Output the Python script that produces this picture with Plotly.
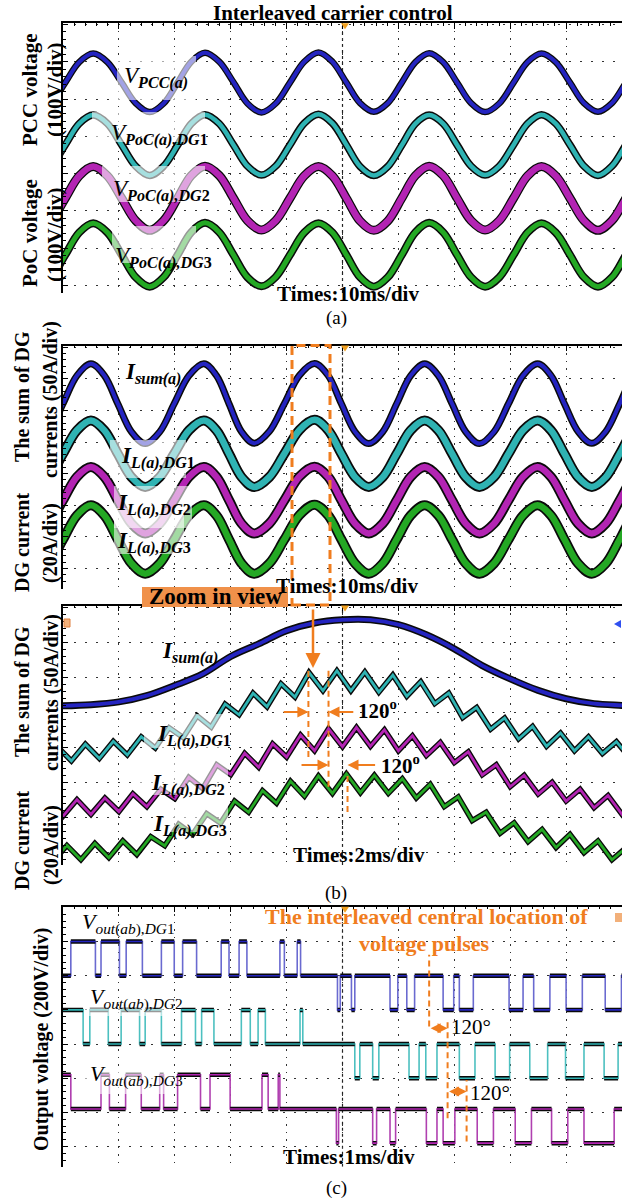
import plotly.graph_objects as go

# ================= DATA (x in scope divisions, y in scope divisions) =================
# (a) PCC / PoC voltages, 10 ms/div
a_t = [-0.46, -0.21, 0.04, 0.29, 0.54, 0.795, 1.05, 1.30,
       1.55, 1.80, 2.05, 2.295, 2.54, 2.795, 3.05, 3.30,
       3.55, 3.805, 4.06, 4.315, 4.57, 4.82, 5.07, 5.315,
       5.56, 5.81, 6.06, 6.305, 6.55, 6.80, 7.05, 7.30,
       7.55, 7.805, 8.06, 8.31, 8.56, 8.815, 9.07, 9.32,
       9.57, 9.82, 10.07, 10.32, 10.57]
a_vpcc = [4.66, 4.89, 5.44, 5.99, 6.22, 5.99, 5.44, 4.89,
          4.65, 4.88, 5.44, 6.0, 6.24, 6.0, 5.45, 4.88,
          4.64, 4.88, 5.44, 6.0, 6.25, 6.0, 5.44, 4.89,
          4.66, 4.89, 5.44, 5.99, 6.23, 5.99, 5.44, 4.89,
          4.65, 4.88, 5.44, 5.99, 6.22, 5.99, 5.44, 4.89,
          4.66, 4.89, 5.44, 5.99, 6.22]
a_dg1 = [2.96, 3.2, 3.77, 4.34, 4.57, 4.34, 3.77, 3.2,
         2.95, 3.2, 3.76, 4.34, 4.58, 4.34, 3.77, 3.2,
         2.96, 3.2, 3.77, 4.35, 4.59, 4.35, 3.77, 3.19,
         2.95, 3.19, 3.76, 4.34, 4.57, 4.34, 3.77, 3.2,
         2.96, 3.2, 3.77, 4.34, 4.58, 4.34, 3.77, 3.2,
         2.95, 3.2, 3.77, 4.34, 4.57]
a_dg2 = [1.49, 1.74, 2.34, 2.94, 3.19, 2.94, 2.34, 1.74,
         1.48, 1.74, 2.34, 2.95, 3.2, 2.95, 2.34, 1.74,
         1.49, 1.74, 2.34, 2.94, 3.19, 2.94, 2.34, 1.73,
         1.48, 1.73, 2.34, 2.95, 3.2, 2.95, 2.34, 1.74,
         1.49, 1.74, 2.34, 2.94, 3.19, 2.94, 2.34, 1.74,
         1.48, 1.74, 2.34, 2.94, 3.19]
a_dg3 = [-0.03, 0.22, 0.82, 1.42, 1.67, 1.42, 0.82, 0.22,
         -0.03, 0.22, 0.82, 1.43, 1.68, 1.43, 0.82, 0.22,
         -0.02, 0.23, 0.82, 1.42, 1.67, 1.42, 0.82, 0.22,
         -0.03, 0.22, 0.82, 1.43, 1.68, 1.43, 0.82, 0.22,
         -0.03, 0.22, 0.82, 1.42, 1.67, 1.42, 0.82, 0.22,
         -0.03, 0.22, 0.82, 1.42, 1.67]

# (b) upper: DG currents, 10 ms/div
b_t = [-0.5, -0.25, 0.0, 0.25, 0.5, 0.74, 0.98, 1.225,
       1.47, 1.73, 1.99, 2.255, 2.52, 2.745, 2.97, 3.195,
       3.42, 3.69, 3.96, 4.23, 4.5, 4.74, 4.98, 5.225,
       5.47, 5.72, 5.97, 6.22, 6.47, 6.715, 6.96, 7.205,
       7.45, 7.71, 7.97, 8.23, 8.49, 8.73, 8.97, 9.215,
       9.46, 9.71, 9.96, 10.205, 10.45]
b_isum = [3.95, 4.32, 5.21, 6.1, 6.47, 6.1, 5.21, 4.32,
          3.95, 4.32, 5.21, 6.1, 6.47, 6.1, 5.21, 4.32,
          3.96, 4.33, 5.21, 6.11, 6.48, 6.11, 5.21, 4.32,
          3.95, 4.32, 5.21, 6.1, 6.47, 6.1, 5.21, 4.32,
          3.95, 4.32, 5.21, 6.1, 6.47, 6.1, 5.21, 4.33,
          3.96, 4.33, 5.21, 6.1, 6.47]
b_dg1 = [2.58, 2.89, 3.63, 4.37, 4.68, 4.37, 3.63, 2.89,
         2.58, 2.89, 3.63, 4.37, 4.68, 4.37, 3.63, 2.89,
         2.58, 2.89, 3.63, 4.38, 4.7, 4.38, 3.63, 2.89,
         2.58, 2.89, 3.63, 4.37, 4.68, 4.37, 3.63, 2.89,
         2.58, 2.89, 3.63, 4.37, 4.68, 4.37, 3.63, 2.89,
         2.58, 2.89, 3.63, 4.37, 4.68]
b_dg2 = [1.11, 1.42, 2.16, 2.9, 3.21, 2.9, 2.16, 1.42,
         1.11, 1.42, 2.16, 2.9, 3.21, 2.9, 2.16, 1.42,
         1.11, 1.42, 2.16, 2.91, 3.22, 2.91, 2.16, 1.42,
         1.11, 1.42, 2.16, 2.9, 3.21, 2.9, 2.16, 1.42,
         1.11, 1.42, 2.16, 2.9, 3.21, 2.9, 2.16, 1.42,
         1.11, 1.42, 2.16, 2.9, 3.21]
b_dg3 = [-0.16, 0.16, 0.92, 1.68, 2.0, 1.68, 0.92, 0.16,
         -0.16, 0.16, 0.92, 1.68, 2.0, 1.68, 0.92, 0.16,
         -0.16, 0.16, 0.92, 1.69, 2.02, 1.69, 0.92, 0.16,
         -0.16, 0.16, 0.92, 1.68, 2.0, 1.68, 0.92, 0.16,
         -0.16, 0.16, 0.92, 1.68, 2.0, 1.68, 0.92, 0.16,
         -0.16, 0.16, 0.92, 1.68, 2.0]

# (b) lower: zoom in view, 2 ms/div
z_t_sum = [-0.2, 0.5, 1.0, 1.5, 2.0, 2.5, 3.0, 3.5, 4.0, 4.5, 5.0, 5.5, 6.0, 6.5,
           7.0, 7.5, 8.0, 8.5, 9.0, 9.5, 10.0, 10.2]
z_isum = [4.18, 4.22, 4.3, 4.48, 4.77, 5.1, 5.6, 5.96, 6.34, 6.56, 6.65, 6.65, 6.51,
          6.22, 5.82, 5.34, 4.96, 4.63, 4.39, 4.25, 4.2, 4.18]
z_t_dg1 = [-0.1, 0.15, 0.4, 0.65, 0.9, 1.15, 1.4, 1.65, 1.9, 2.15, 2.4, 2.65, 2.9, 3.15,
           3.4, 3.65, 3.9, 4.15, 4.4, 4.65, 4.9, 5.15, 5.4, 5.65, 5.9, 6.15, 6.4, 6.65,
           6.9, 7.15, 7.4, 7.65, 7.9, 8.15, 8.4, 8.65, 8.9, 9.15, 9.4, 9.65, 9.9, 10.15]
z_dg1 = [3.02, 2.61, 3.09, 2.68, 3.17, 2.78, 3.3, 2.98, 3.56, 3.28, 3.9, 3.58, 4.24, 3.93,
         4.55, 4.16, 4.82, 4.44, 5.14, 4.62, 5.19, 4.62, 5.16, 4.58, 5.07, 4.46, 4.88, 4.25,
         4.55, 3.85, 4.14, 3.52, 3.84, 3.24, 3.6, 3.03, 3.41, 2.9, 3.3, 2.82, 3.16, 2.68]
z_t_dg2 = [-0.25, 0.0, 0.25, 0.5, 0.75, 1.0, 1.25, 1.5, 1.75, 2.0, 2.25, 2.5, 2.75, 3.0,
           3.25, 3.5, 3.75, 4.0, 4.25, 4.5, 4.75, 5.0, 5.25, 5.5, 5.75, 6.0, 6.25, 6.5,
           6.75, 7.0, 7.25, 7.5, 7.75, 8.0, 8.25, 8.5, 8.75, 9.0, 9.25, 9.5, 9.75, 10.0, 10.25]
z_dg2 = [1.44, 1.03, 1.5, 1.08, 1.55, 1.16, 1.67, 1.3, 1.8, 1.53, 2.14, 1.82, 2.5, 2.22,
         2.83, 2.43, 3.1, 2.72, 3.35, 2.9, 3.53, 3.02, 3.57, 3.03, 3.5, 2.9, 3.33, 2.76,
         3.14, 2.56, 2.87, 2.21, 2.5, 1.87, 2.2, 1.66, 2.0, 1.46, 1.8, 1.27, 1.62, 1.08, 1.47]
z_t_dg3 = [-0.18, 0.07, 0.32, 0.57, 0.82, 1.07, 1.32, 1.57, 1.82, 2.07, 2.32, 2.57, 2.82,
           3.07, 3.32, 3.57, 3.82, 4.07, 4.32, 4.57, 4.82, 5.07, 5.32, 5.57, 5.82, 6.07,
           6.32, 6.57, 6.82, 7.07, 7.32, 7.57, 7.82, 8.07, 8.32, 8.57, 8.82, 9.07, 9.32,
           9.57, 9.82, 10.07, 10.32]
z_dg3 = [-0.27, 0.19, -0.22, 0.25, -0.16, 0.32, -0.07, 0.44, 0.18, 0.8, 0.51, 1.1, 0.83,
         1.46, 1.14, 1.76, 1.4, 2.03, 1.6, 2.18, 1.68, 2.24, 1.7, 2.2, 1.68, 2.1, 1.55,
         1.94, 1.3, 1.58, 0.9, 1.14, 0.54, 0.84, 0.3, 0.65, 0.13, 0.51, -0.02, 0.32,
         -0.22, 0.12, -0.37]

# (c) output voltages, 1 ms/div: switching instants (div) and voltage (V) after each instant
c1_t = [0, 0.14, 0.58, 0.68, 1.01, 1.13, 1.42, 1.76, 1.99, 2.14, 2.39, 2.83, 2.97, 3.15,
        3.29, 3.88, 3.96, 4.19, 4.25, 4.91, 4.96, 5.16, 5.22, 5.85, 5.99, 6.15, 6.29,
        6.8, 6.99, 7.09, 7.34, 7.98, 8.23, 8.42, 8.71, 9.0, 9.29, 9.7, 9.99, 10.0]
c1_v = [0, 200, 0, 200, 0, 200, 0, 200, 0, 200, 0, 200, 0, 200, 0, 200, 0, 200, 0,
        -200, 0, -200, 0, -200, 0, -200, 0, -200, 0, -200, 0, -200, 0, -200, 0, -200,
        0, -200, 0, 0]
c2_t = [0, 0.36, 0.48, 0.81, 1.04, 1.37, 1.47, 1.76, 2.12, 2.37, 2.48, 2.7, 3.19, 3.35,
        3.49, 3.62, 4.24, 4.29, 5.22, 5.31, 5.54, 5.65, 6.19, 6.37, 6.49, 6.69, 7.09,
        7.37, 7.73, 7.99, 8.35, 8.67, 8.99, 9.32, 9.68, 9.93, 10.0]
c2_v = [200, 0, 200, 0, 200, 0, 200, 0, 200, 0, 200, 0, 200, 0, 200, 0, 200, 0,
        -200, 0, -200, 0, -200, 0, -200, 0, -200, 0, -200, 0, -200, 0, -200, 0, -200, 0, 0]
c3_t = [0, 0.14, 0.68, 0.83, 1.12, 1.4, 1.73, 1.8, 2.05, 2.46, 2.63, 2.99, 3.56, 3.67,
        3.85, 3.88, 4.89, 4.93, 5.54, 5.61, 5.85, 5.95, 6.5, 6.69, 6.8, 7.01, 7.41, 7.7,
        8.09, 8.38, 8.74, 9.03, 9.32, 9.86, 10.0]
c3_v = [200, 0, 200, 0, 200, 0, 200, 0, 200, 0, 200, 0, 200, 0, 200, 0, -200, 0,
        -200, 0, -200, 0, -200, 0, -200, 0, -200, 0, -200, 0, -200, 0, -200, 0, 0]
c_offsets = [5.0, 3.0, 1.1]      # zero-level of each channel on screen (div)
c_vdiv = 200                     # V/div

# ================= STYLE =================
W, H = 630, 1201
FONT = "Liberation Serif"
BLUE, CYAN, MAG, GREEN = "#2424C0", "#2FB3B3", "#B324B3", "#24A824"
ORANGE = "#F07D1E"
INK = "#0A0A0A"
X0, X1 = 63, 622
panels = [  # (top px, bottom px, y range)
    (23.3, 293.0, [-0.2, 7.03]),
    (345.5, 588.5, [-0.63, 7.05]),
    (605.5, 865.0, [-0.37, 7.06]),
    (906.7, 1166.7, [-0.59, 7.02]),
]


def PX(x):
    return x / W


def PY(y):
    return 1 - y / H


fig = go.Figure()
layout = dict(width=W, height=H, margin=dict(l=0, r=0, t=0, b=0),
              paper_bgcolor="white", plot_bgcolor="white", showlegend=False,
              font=dict(family=FONT, color="black", size=14))

for i, (top, bot, yr) in enumerate(panels, start=1):
    sx = "" if i == 1 else str(i)
    layout["xaxis" + sx] = dict(
        domain=[PX(X0), PX(X1)], range=[0, 10], anchor="y" + sx, side="top",
        showline=True, linecolor="black", linewidth=1.5,
        ticks="inside", ticklen=6, tickcolor="black", tickwidth=1, dtick=1, tick0=0,
        showticklabels=False, showgrid=True, gridcolor="#333", gridwidth=1.3,
        griddash="1.5px,6px", zeroline=False, fixedrange=True,
        minor=dict(ticks="inside", ticklen=3, dtick=0.2, tickcolor="black", showgrid=False))
    layout["yaxis" + sx] = dict(
        domain=[PY(bot), PY(top)], range=yr, anchor="x" + sx,
        showline=True, linecolor="black", linewidth=1.5,
        ticks="inside", ticklen=5, tickcolor="black", dtick=1, tick0=0,
        showticklabels=False, showgrid=True, gridcolor="#333", gridwidth=1.3,
        griddash="1.5px,9.5px", zeroline=False, fixedrange=True,
        minor=dict(ticks="inside", ticklen=3, dtick=0.2, tickcolor="black", showgrid=False))
fig.update_layout(**layout)


def trace(x, y, color, wb, wc, ax, shape="spline"):
    xa, ya = ("x", "y") if ax == 1 else ("x%d" % ax, "y%d" % ax)
    for col, wd in ((INK, wb), (color, wc)):
        ln = dict(color=col, width=wd, shape=shape)
        if shape == "spline":
            ln["smoothing"] = 1.0
        fig.add_trace(go.Scatter(x=x, y=y, mode="lines", xaxis=xa, yaxis=ya,
                                 hoverinfo="skip", line=ln))


# (a)
trace(a_t, a_vpcc, BLUE, 6.5, 4, 1)
trace(a_t, a_dg1, CYAN, 7.5, 4.5, 1)
trace(a_t, a_dg2, MAG, 9, 6.5, 1)
trace(a_t, a_dg3, GREEN, 8, 5, 1)
# (b) upper
trace(b_t, b_isum, BLUE, 7, 4, 2)
trace(b_t, b_dg1, CYAN, 10, 6.5, 2)
trace(b_t, b_dg2, MAG, 10, 6.5, 2)
trace(b_t, b_dg3, GREEN, 10, 6.5, 2)
# (b) zoom
trace(z_t_sum, z_isum, BLUE, 7, 3.8, 3)
trace(z_t_dg1, z_dg1, CYAN, 5.5, 2.8, 3, shape="linear")
trace(z_t_dg2, z_dg2, MAG, 5.5, 2.8, 3, shape="linear")
trace(z_t_dg3, z_dg3, GREEN, 5.5, 2.8, 3, shape="linear")

# (c) pulse trains
for ts, vs, off, col, edge in [(c1_t, c1_v, c_offsets[0], BLUE, "#6A6AD0"),
                               (c2_t, c2_v, c_offsets[1], CYAN, "#4CC0C0"),
                               (c3_t, c3_v, c_offsets[2], MAG, "#B040B0")]:
    ys = [off + v / c_vdiv for v in vs]
    hx, hy = [], []
    for k in range(len(ts) - 1):
        hx += [ts[k], ts[k + 1], None]
        hy += [ys[k], ys[k], None]
    fig.add_trace(go.Scatter(x=ts, y=ys, mode="lines", xaxis="x4", yaxis="y4", hoverinfo="skip",
                             line=dict(color=edge, width=1.6, shape="hv")))
    fig.add_trace(go.Scatter(x=hx, y=hy, mode="lines", xaxis="x4", yaxis="y4", hoverinfo="skip",
                             line=dict(color=INK, width=4.5)))
    fig.add_trace(go.Scatter(x=hx, y=hy, mode="lines", xaxis="x4", yaxis="y4", hoverinfo="skip",
                             line=dict(color=col, width=1.6)))

shapes = []
# centre dashed vertical line and trigger markers
for i, (top, bot, yr) in enumerate(panels, start=1):
    sx = "" if i == 1 else str(i)
    shapes.append(dict(type="line", xref="x" + sx, yref="y" + sx, x0=5, x1=5, y0=yr[0], y1=yr[1],
                       line=dict(color="#222", width=1.2, dash="3px,3px"), layer="below"))
    shapes.append(dict(type="path", xref="paper", yref="paper",
                       path="M %f %f L %f %f L %f %f Z" % (PX(341), PY(top), PX(349), PY(top),
                                                           PX(345), PY(top + 6)),
                       fillcolor="#F0A020", line=dict(width=0)))

# pale patches behind labels
for (x0, y0, x1, y1) in [(117, 56, 196, 100), (92, 112, 205, 142), (102, 166, 205, 202),
                         (112, 226, 196, 263),
                         (110, 440, 186, 478), (114, 486, 192, 528), (114, 508, 184, 554),
                         (144, 714, 228, 748), (138, 758, 228, 795), (162, 802, 228, 832),
                         (85, 1008, 165, 1016), (85, 1072, 172, 1094)]:
    shapes.append(dict(type="rect", xref="paper", yref="paper", x0=PX(x0), x1=PX(x1),
                       y0=PY(y1), y1=PY(y0), fillcolor="rgba(255,255,255,0.58)",
                       line=dict(width=0), layer="above"))

# zoom box in (b) upper and the "Zoom in view" tag
shapes.append(dict(type="rect", xref="paper", yref="paper", x0=PX(292), x1=PX(330),
                   y0=PY(605), y1=PY(345.5), line=dict(color=ORANGE, width=3, dash="9px,5px")))
shapes.append(dict(type="rect", xref="paper", yref="paper", x0=PX(142), x1=PX(288),
                   y0=PY(607), y1=PY(587), fillcolor="#F0914A", line=dict(width=0)))

# small screen icons
shapes.append(dict(type="rect", xref="paper", yref="paper", x0=PX(64), x1=PX(70),
                   y0=PY(627), y1=PY(619), fillcolor="#F2B07A", line=dict(color="#E08040", width=1)))
shapes.append(dict(type="path", xref="paper", yref="paper",
                   path="M %f %f L %f %f L %f %f Z" % (PX(614), PY(624), PX(621), PY(620),
                                                       PX(621), PY(628)),
                   fillcolor="#3050F0", line=dict(width=0)))
shapes.append(dict(type="rect", xref="paper", yref="paper", x0=PX(615), x1=PX(622),
                   y0=PY(922), y1=PY(913), fillcolor="#F2B07A", line=dict(width=0)))

# orange dashed markers in zoomed (b) and (c)
for (xx, ya, yb, ax) in [(4.39, 2.72, 5.2, 3), (4.75, 1.87, 5.3, 3), (5.09, 1.15, 2.3, 3),
                         (6.55, 3.51, 5.61, 4), (6.88, 0.83, 3.71, 4), (7.22, 0.15, 1.95, 4)]:
    shapes.append(dict(type="line", xref="x%d" % ax, yref="y%d" % ax, x0=xx, x1=xx, y0=ya, y1=yb,
                       line=dict(color=ORANGE, width=2, dash="6px,4px")))
fig.update_layout(shapes=shapes)

ann = []


def text(x, y, s, size, xanchor="center", angle=0, color="black", yanchor="middle"):
    ann.append(dict(x=PX(x), y=PY(y), xref="paper", yref="paper", text=s, showarrow=False,
                    xanchor=xanchor, yanchor=yanchor, textangle=angle,
                    font=dict(family=FONT, size=size, color=color)))


text(333, 13, "<b>Interleaved carrier control</b>", 21)
text(30, 90, "<b>PCC voltage</b>", 21, angle=-90)
text(55, 90, "<b>(100V/div)</b>", 21, angle=-90)
text(30, 233, "<b>PoC voltage</b>", 21, angle=-90)
text(55, 235, "<b>(100V/div)</b>", 21, angle=-90)
text(348, 294, "<b>Times:10ms/div</b>", 21)
text(336, 318, "(a)", 19)

text(22, 397, "<b>The sum of DG</b>", 20, angle=-90)
text(50, 400, "<b>currents (50A/div)</b>", 20, angle=-90)
text(22, 543, "<b>DG current</b>", 20, angle=-90)
text(50, 543, "<b>(20A/div)</b>", 20, angle=-90)
text(347, 586, "<b>Times:10ms/div</b>", 21)
text(215, 597, "<b>Zoom in view</b>", 23)

text(22, 692, "<b>The sum of DG</b>", 20, angle=-90)
text(51, 693, "<b>currents (50A/div)</b>", 20, angle=-90)
text(22, 841, "<b>DG current</b>", 20, angle=-90)
text(51, 845, "<b>(20A/div)</b>", 20, angle=-90)
text(359, 855, "<b>Times:2ms/div</b>", 21)
text(336, 893, "(b)", 19)

text(41, 1040, "<b>Output voltage (200V/div)</b>", 20, angle=-90)
text(349, 1157, "<b>Times:1ms/div</b>", 21)
text(336, 1188, "(c)", 19)
text(426, 916, "<b>The interleaved central location of</b>", 22, color=ORANGE)
text(424, 943, "<b>voltage pulses</b>", 22, color=ORANGE)

# trace labels
text(122, 77, "<i>V</i><sub><b><i>PCC(a)</i></b></sub>", 23, xanchor="left")
text(109, 134, "<i>V</i><sub><b><i>PoC(a),DG</i>1</b></sub>", 23, xanchor="left")
text(111, 191, "<i>V</i><sub><b><i>PoC(a),DG</i>2</b></sub>", 23, xanchor="left")
text(113, 257, "<i>V</i><sub><b><i>PoC(a),DG</i>3</b></sub>", 23, xanchor="left")

text(123, 374, "<b><i>I</i></b><sub><b><i>sum(a)</i></b></sub>", 23, xanchor="left")
text(119, 457, "<b><i>I</i></b><sub><b><i>L(a),DG</i>1</b></sub>", 23, xanchor="left")
text(115, 504, "<b><i>I</i></b><sub><b><i>L(a),DG</i>2</b></sub>", 23, xanchor="left")
text(115, 542, "<b><i>I</i></b><sub><b><i>L(a),DG</i>3</b></sub>", 23, xanchor="left")

text(160, 652, "<b><i>I</i></b><sub><b><i>sum(a)</i></b></sub>", 23, xanchor="left")
text(155, 735, "<b><i>I</i></b><sub><b><i>L(a),DG</i>1</b></sub>", 23, xanchor="left")
text(149, 784, "<b><i>I</i></b><sub><b><i>L(a),DG</i>2</b></sub>", 23, xanchor="left")
text(151, 825, "<b><i>I</i></b><sub><b><i>L(a),DG</i>3</b></sub>", 23, xanchor="left")

text(80, 923, "<i>V</i><sub><i>out</i>(<i>ab</i>),<i>DG</i>1</sub>", 22, xanchor="left")
text(88, 998, "<i>V</i><sub><i>out</i>(<i>ab</i>),<i>DG</i>2</sub>", 22, xanchor="left")
text(88, 1075, "<i>V</i><sub><i>out</i>(<i>ab</i>),<i>DG</i>3</sub>", 22, xanchor="left")

# 120 degree markers
for (xa_, xb_, yy, ax) in [(3.92, 4.39, 4.01, 3), (5.22, 4.75, 4.01, 3),
                           (4.24, 4.75, 2.49, 3), (5.61, 5.09, 2.49, 3)]:
    ann.append(dict(x=xb_, y=yy, ax=xa_, ay=yy, xref="x%d" % ax, yref="y%d" % ax,
                    axref="x%d" % ax, ayref="y%d" % ax, text="", showarrow=True,
                    arrowhead=2, arrowsize=1.1, arrowwidth=2, arrowcolor=ORANGE,
                    font=dict(family=FONT, size=12)))
for (xa_, xb_, yy) in [(6.55, 6.88, 3.46), (6.88, 7.22, 1.61)]:
    ann.append(dict(x=xb_, y=yy, ax=xa_, ay=yy, xref="x4", yref="y4", axref="x4", ayref="y4",
                    text="", showarrow=True, arrowhead=2, startarrowhead=2, arrowside="end+start",
                    arrowsize=1.0, arrowwidth=2, arrowcolor=ORANGE,
                    font=dict(family=FONT, size=12)))
ann.append(dict(x=5.25, y=4.07, xref="x3", yref="y3", text="<b>120<sup>o</sup></b>", showarrow=False,
                xanchor="left", font=dict(family=FONT, size=21, color="black")))
ann.append(dict(x=5.65, y=2.52, xref="x3", yref="y3", text="<b>120<sup>o</sup></b>", showarrow=False,
                xanchor="left", font=dict(family=FONT, size=21, color="black")))
ann.append(dict(x=6.9, y=3.51, xref="x4", yref="y4", text="120°", showarrow=False,
                xanchor="left", font=dict(family=FONT, size=21, color="black")))
ann.append(dict(x=7.24, y=1.58, xref="x4", yref="y4", text="120°", showarrow=False,
                xanchor="left", font=dict(family=FONT, size=21, color="black")))
# zoom arrow
ann.append(dict(x=PX(313), y=PY(668), xref="paper", yref="paper", ax=0, ay=-60, text="",
                showarrow=True, arrowhead=2, arrowsize=1.2, arrowwidth=2.5, arrowcolor=ORANGE,
                font=dict(family=FONT, size=12)))

fig.update_layout(annotations=ann)
fig.write_html("out.html")
